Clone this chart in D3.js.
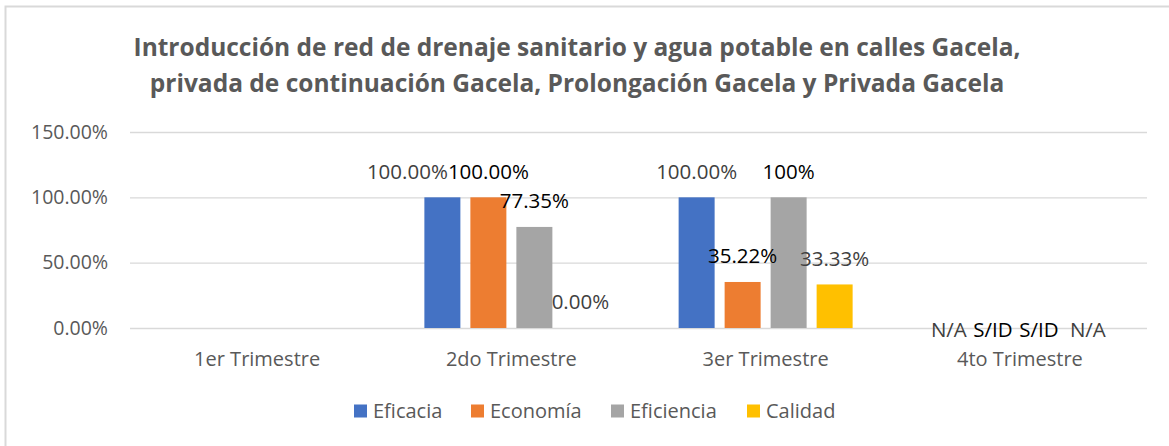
<!DOCTYPE html>
<html>
<head>
<meta charset="utf-8">
<script src="https://cdn.jsdelivr.net/npm/d3@7"></script>
<style>
  body { margin: 0; background: #fff; }
  #chart { width: 1169px; height: 446px; }
</style>
</head>
<body>
<div id="chart"></div>
<script>
// data
const categories = ["1er Trimestre", "2do Trimestre", "3er Trimestre", "4to Trimestre"];
const seriesNames = ["Eficacia", "Economía", "Eficiencia", "Calidad"];
const eficacia = [null, 1.0, 1.0, null];
const economia = [null, 1.0, 0.3522, null];
const eficiencia = [null, 0.7735, 1.0, null];
const calidad = [null, 0.0, 0.3333, null];
const eficaciaLabels = [null, "100.00%", "100.00%", "N/A"];
const economiaLabels = [null, "100.00%", "35.22%", "S/ID"];
const eficienciaLabels = [null, "77.35%", "100%", "S/ID"];
const calidadLabels = [null, "0.00%", "33.33%", "N/A"];
const yTicks = [0, 0.5, 1.0, 1.5];

const colors = ["#4472c4", "#ed7d31", "#a5a5a5", "#ffc000"];
const labelColors = ["#404040", "#000", "#000", "#404040"];

const values = [eficacia, economia, eficiencia, calidad];
const labels = [eficaciaLabels, economiaLabels, eficienciaLabels, calidadLabels];

const width = 1169, height = 446;
const margin = { top: 132, right: 22, bottom: 118, left: 130 };
const font = "'Open Sans', 'Noto Sans', sans-serif";

const svg = d3.select("#chart").append("svg")
    .attr("width", width)
    .attr("height", height)
    .attr("font-family", font);

// chart area frame
svg.append("rect")
    .attr("x", 5.5).attr("y", 6.5)
    .attr("width", width + 10).attr("height", height + 10)
    .attr("fill", "none")
    .attr("stroke", "#d9d9d9")
    .attr("stroke-width", 2);

// title
const title = svg.append("text")
    .attr("text-anchor", "middle")
    .attr("fill", "#595959")
    .attr("font-weight", "bold")
    .attr("font-size", 24.5);
title.append("tspan").attr("x", 577).attr("y", 56)
    .text("Introducción de red de drenaje sanitario y agua potable en calles Gacela,");
title.append("tspan").attr("x", 577).attr("y", 92)
    .text("privada de continuación Gacela, Prolongación Gacela y Privada Gacela");

const x = d3.scaleBand()
    .domain(categories)
    .range([margin.left, width - margin.right]);

const y = d3.scaleLinear()
    .domain([0, 1.5])
    .range([height - margin.bottom, margin.top]);

const barW = 36, barGap = 10;
const groupW = seriesNames.length * barW + (seriesNames.length - 1) * barGap;
const barX = (ci, si) => x(categories[ci]) + x.bandwidth() / 2 - groupW / 2 + si * (barW + barGap);

// gridlines + y labels
const yAxis = svg.append("g")
    .attr("transform", `translate(${margin.left},0)`)
    .call(d3.axisLeft(y).tickValues(yTicks)
        .tickSize(-(width - margin.left - margin.right))
        .tickPadding(22)
        .tickFormat(d3.format(".2%")));
yAxis.select(".domain").remove();
yAxis.selectAll("line").attr("stroke", "#d9d9d9").attr("stroke-width", 1.3);
yAxis.selectAll("text")
    .attr("fill", "#595959")
    .attr("font-size", 19.5)
    .attr("font-family", font);

// x labels
const xAxis = svg.append("g")
    .attr("transform", `translate(0,${y(0)})`)
    .call(d3.axisBottom(x).tickSize(0).tickPadding(24));
xAxis.select(".domain").remove();
xAxis.selectAll("text")
    .attr("fill", "#595959")
    .attr("font-size", 20)
    .attr("font-family", font);

// bars
seriesNames.forEach((name, si) => {
    svg.append("g").selectAll("rect")
        .data(values[si].map((v, ci) => ({ v, ci })).filter(d => d.v !== null))
        .join("rect")
        .attr("x", d => barX(d.ci, si))
        .attr("y", d => y(d.v))
        .attr("width", barW)
        .attr("height", d => y(0) - y(d.v))
        .attr("fill", colors[si]);
});

// data labels (mostly default outside-end, a couple moved by hand in the original)
const labelShift = { "0-1": [-35, 0], "0-3": [-2, 28], "1-3": [-4, 28], "2-3": [-4, 28], "3-3": [-1, 28] };
seriesNames.forEach((name, si) => {
    svg.append("g").selectAll("text")
        .data(labels[si].map((t, ci) => ({ t, ci, v: values[si][ci] })).filter(d => d.t !== null))
        .join("text")
        .attr("x", d => barX(d.ci, si) + barW / 2 + (labelShift[si + "-" + d.ci] || [0, 0])[0])
        .attr("y", d => y(d.v || 0) - 26 + (labelShift[si + "-" + d.ci] || [0, 0])[1])
        .attr("dy", "0.35em")
        .attr("text-anchor", "middle")
        .attr("font-size", 20.5)
        .attr("fill", labelColors[si])
        .text(d => d.t);
});

// legend
const legendX = [354, 471, 611, 747];
const legend = svg.append("g");
seriesNames.forEach((name, i) => {
    const g = legend.append("g").attr("transform", `translate(${legendX[i]},411)`);
    g.append("rect").attr("x", 0).attr("y", -6.5).attr("width", 13).attr("height", 13).attr("fill", colors[i]);
    g.append("text").attr("x", 19).attr("dy", "0.35em")
        .attr("font-size", 20).attr("fill", "#595959").text(name);
});
</script>
</body>
</html>
